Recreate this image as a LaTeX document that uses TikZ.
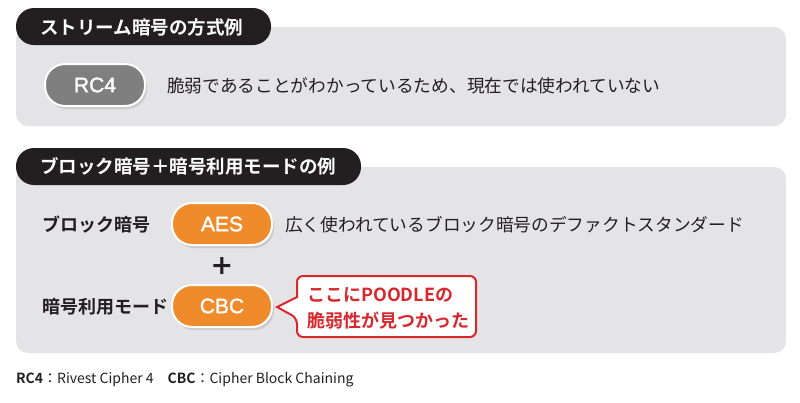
\documentclass[tikz,border=0pt]{standalone}
\usepackage{fontspec}
\setmainfont{Noto Sans CJK JP}[BoldFont={Noto Sans CJK JP Bold}]
\newfontfamily\pillfont{Liberation Sans}[FakeBold=1.5]
\newfontfamily\plusfont{DejaVu Sans}
\usetikzlibrary{shadows}
\definecolor{panelgray}{HTML}{E4E4E6}
\definecolor{tabblack}{HTML}{231F20}
\definecolor{pillgray}{HTML}{7F7F7F}
\definecolor{pillorange}{HTML}{EF8B2B}
\definecolor{calloutred}{HTML}{D8282E}
\definecolor{textdark}{HTML}{231F20}
\begin{document}
\begin{tikzpicture}[x=1pt,y=-1pt,
  panel/.style={fill=panelgray, rounded corners=12pt},
  tab/.style={fill=tabblack, rounded corners=18pt},
  tabtext/.style={anchor=west, text=white, font=\fontsize{18.5}{20}\selectfont\bfseries, inner sep=0pt},
  pill/.style={draw=white, line width=2pt, rounded corners=20pt, minimum width=100pt, minimum height=42pt,
    text=white, font=\pillfont\fontsize{21}{22}\selectfont, inner sep=0pt,
    drop shadow={opacity=0.25, shadow xshift=2pt, shadow yshift=-3pt}},
  body/.style={anchor=west, text=textdark, font=\fontsize{17.7}{20}\selectfont, inner sep=0pt},
  label/.style={anchor=west, text=textdark, font=\fontsize{18}{20}\selectfont\bfseries, inner sep=0pt},
]
\useasboundingbox (0,0) rectangle (800,402);
\fill[white] (0,0) rectangle (800,402);

% panel 1
\fill[panel] (16,27) rectangle (786,126);
\fill[tab] (16,8) rectangle (271,45);
\node[tabtext] (h1) at (40,27) {ストリーム暗号の方式例};
\node[pill, fill=pillgray] (rc4) at (95,85) {RC4};
\node[body] (t1) at (167,86) {脆弱であることがわかっているため、現在では使われていない};

% panel 2
\fill[panel] (16,167) rectangle (786,353);
\fill[tab] (16,148) rectangle (361,185);
\node[tabtext] (h2) at (40,166) {ブロック暗号＋暗号利用モードの例};
\node[label] (lb1) at (42,225) {ブロック暗号};
\node[pill, fill=pillorange] (aes) at (222,224) {AES};
\node[body] (t2) at (285,225) {広く使われているブロック暗号のデファクトスタンダード};
\node[text=textdark, font=\plusfont\fontsize{27}{28}\selectfont\bfseries, inner sep=0pt] (plus) at (222,266) {+};
\node[label] (lb2) at (42,307) {暗号利用モード};
\node[pill, fill=pillorange] (cbc) at (222,306) {CBC};

% callout
\draw[calloutred, line width=2pt, fill=white, rounded corners=6pt]
  (297,276) -- (476,276) -- (476,337) -- (297,337) -- (297,318)
  [sharp corners] -- (277,307) -- (297,297) [rounded corners=6pt] -- cycle;
\node[anchor=west, text=calloutred, font=\fontsize{18}{26}\selectfont\bfseries, align=left, inner sep=0pt] (note) at (307,308) {ここにPOODLEの\\脆弱性が見つかった};

% footnote
\node[anchor=west, text=textdark, font=\fontsize{14}{16}\selectfont, inner sep=0pt] (fn) at (16,380)
  {\textbf{RC4}：Rivest Cipher 4\hspace{1em}\textbf{CBC}：Cipher Block Chaining};
\end{tikzpicture}
\end{document}
